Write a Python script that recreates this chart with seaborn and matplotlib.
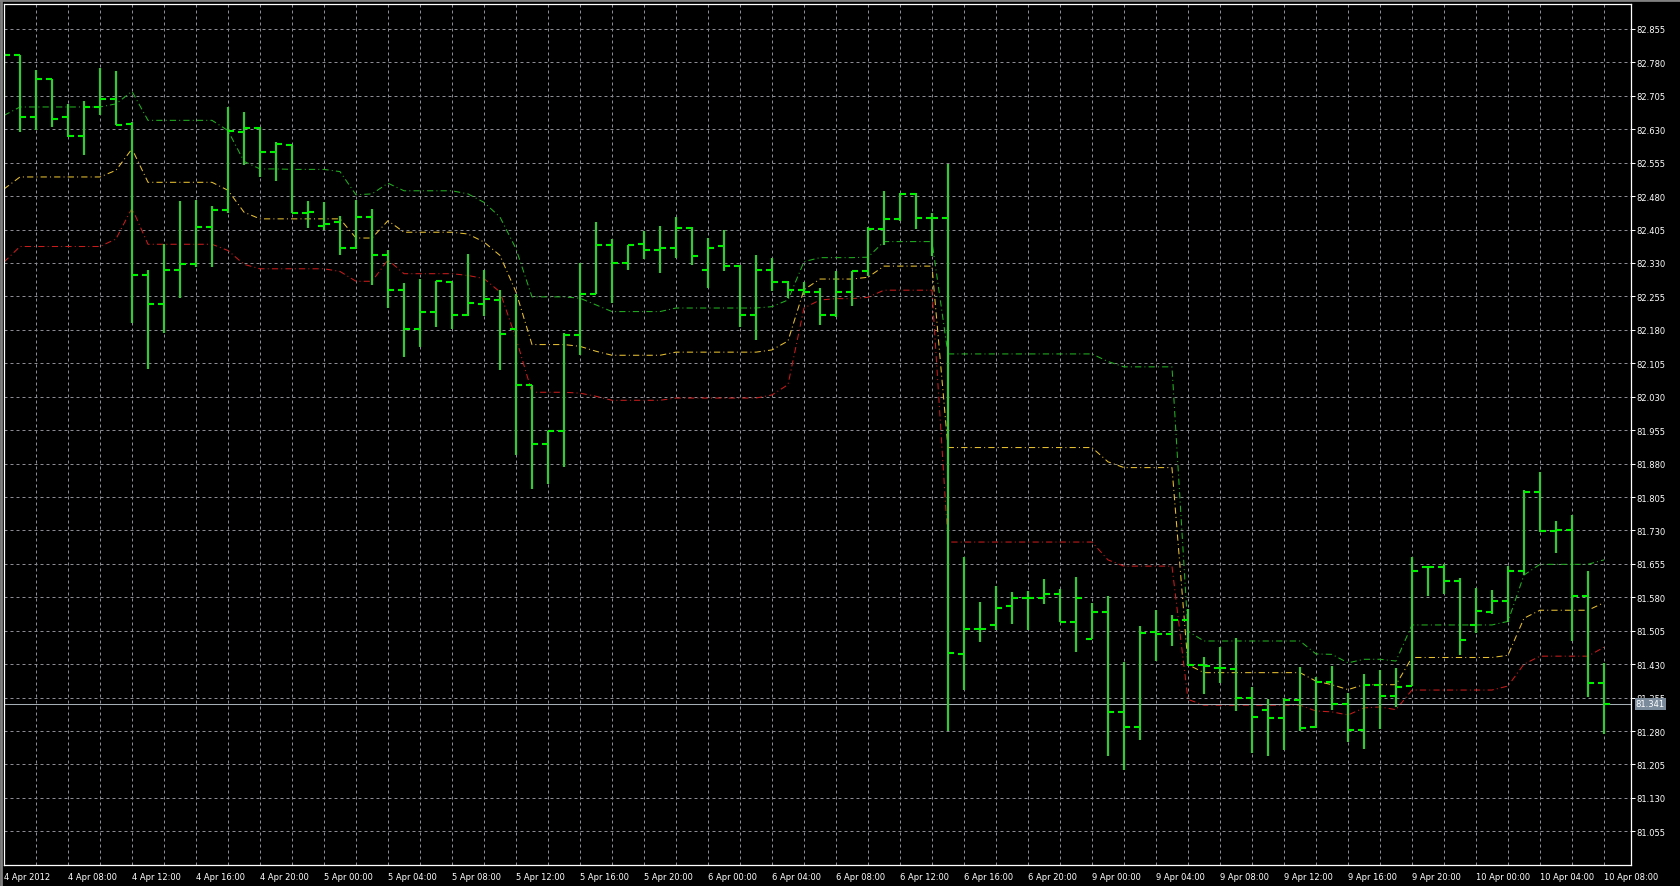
import numpy as np
import pandas as pd
import matplotlib
matplotlib.use("Agg")
import matplotlib.pyplot as plt
from matplotlib.lines import Line2D
import seaborn as sns

# hourly bars, 4 Apr 2012 04:00 ... 10 Apr 2012 08:00
bar_open = [82.720, 82.797, 82.657, 82.742, 82.657, 82.616, 82.680, 82.697, 82.641, 82.303,
            82.239, 82.315, 82.328, 82.411, 82.449, 82.624, 82.632, 82.580, 82.595, 82.442,
            82.412, 82.421, 82.364, 82.434, 82.347, 82.270, 82.183, 82.220, 82.287, 82.213,
            82.238, 82.248, 82.183, 82.056, 81.924, 81.952, 82.168, 82.260, 82.370, 82.330,
            82.373, 82.359, 82.363, 82.408, 82.314, 82.367, 82.323, 82.214, 82.314, 82.288,
            82.269, 82.265, 82.214, 82.265, 82.312, 82.406, 82.428, 82.484, 82.432, 82.432,
            81.452, 81.508, 81.518, 81.560, 81.578, 81.578, 81.587, 81.524, 81.486, 81.547,
            81.323, 81.290, 81.502, 81.497, 81.530, 81.429, 81.422, 81.420, 81.355, 81.328,
            81.310, 81.349, 81.290, 81.390, 81.341, 81.282, 81.384, 81.358, 81.380, 81.647,
            81.647, 81.617, 81.518, 81.547, 81.572, 81.639, 81.817, 81.729, 81.731, 81.583,
            81.387]
bar_high = [82.800, 82.797, 82.762, 82.743, 82.686, 82.693, 82.768, 82.761, 82.646, 82.315,
            82.372, 82.470, 82.471, 82.458, 82.681, 82.668, 82.635, 82.601, 82.595, 82.469,
            82.466, 82.435, 82.471, 82.451, 82.360, 82.286, 82.293, 82.290, 82.287, 82.351,
            82.315, 82.269, 82.261, 82.056, 81.954, 82.173, 82.330, 82.421, 82.383, 82.370,
            82.402, 82.414, 82.434, 82.411, 82.385, 82.403, 82.326, 82.348, 82.342, 82.290,
            82.288, 82.275, 82.312, 82.312, 82.410, 82.492, 82.488, 82.486, 82.442, 82.552,
            81.670, 81.569, 81.605, 81.592, 81.594, 81.620, 81.599, 81.625, 81.567, 81.583,
            81.436, 81.515, 81.551, 81.541, 81.553, 81.446, 81.468, 81.489, 81.379, 81.351,
            81.354, 81.424, 81.401, 81.426, 81.366, 81.407, 81.417, 81.422, 81.670, 81.651,
            81.655, 81.623, 81.600, 81.597, 81.651, 81.820, 81.861, 81.752, 81.764, 81.640,
            81.432]
bar_low = [82.700, 82.623, 82.629, 82.635, 82.612, 82.573, 82.661, 82.640, 82.195, 82.092,
           82.173, 82.251, 82.320, 82.320, 82.442, 82.549, 82.523, 82.514, 82.442, 82.408,
           82.403, 82.347, 82.362, 82.280, 82.228, 82.120, 82.142, 82.186, 82.183, 82.211,
           82.211, 82.090, 81.900, 81.824, 81.835, 81.872, 82.124, 82.260, 82.240, 82.314,
           82.339, 82.308, 82.341, 82.326, 82.273, 82.311, 82.187, 82.158, 82.267, 82.251,
           82.258, 82.190, 82.208, 82.234, 82.300, 82.370, 82.424, 82.406, 82.346, 81.281,
           81.371, 81.479, 81.506, 81.520, 81.506, 81.565, 81.524, 81.457, 81.486, 81.223,
           81.192, 81.261, 81.437, 81.470, 81.426, 81.364, 81.387, 81.326, 81.231, 81.224,
           81.237, 81.281, 81.287, 81.328, 81.255, 81.239, 81.285, 81.334, 81.380, 81.584,
           81.588, 81.450, 81.500, 81.542, 81.524, 81.629, 81.727, 81.680, 81.481, 81.356,
           81.274]
bar_close = [82.797, 82.657, 82.742, 82.652, 82.616, 82.680, 82.697, 82.640, 82.304, 82.237,
             82.315, 82.328, 82.411, 82.449, 82.626, 82.632, 82.580, 82.596, 82.442, 82.445,
             82.417, 82.364, 82.434, 82.347, 82.270, 82.183, 82.220, 82.290, 82.214, 82.240,
             82.249, 82.170, 82.056, 81.924, 81.954, 82.168, 82.260, 82.370, 82.330, 82.370,
             82.359, 82.363, 82.408, 82.345, 82.363, 82.323, 82.214, 82.314, 82.288, 82.269,
             82.265, 82.214, 82.266, 82.312, 82.406, 82.428, 82.484, 82.432, 82.432, 81.455,
             81.508, 81.509, 81.557, 81.578, 81.578, 81.587, 81.524, 81.578, 81.547, 81.323,
             81.290, 81.500, 81.497, 81.530, 81.429, 81.427, 81.422, 81.355, 81.311, 81.310,
             81.349, 81.287, 81.390, 81.341, 81.282, 81.384, 81.358, 81.378, 81.639, 81.647,
             81.617, 81.485, 81.550, 81.572, 81.639, 81.817, 81.729, 81.731, 81.583, 81.387,
             81.341]

# indicator lines (upper / middle / lower)
upper_line = [82.661, 82.680, 82.680, 82.680, 82.680, 82.680, 82.680, 82.687, 82.715, 82.650,
              82.650, 82.650, 82.650, 82.650, 82.627, 82.558, 82.541, 82.541, 82.540, 82.540,
              82.540, 82.535, 82.483, 82.485, 82.509, 82.492, 82.492, 82.492, 82.492, 82.485,
              82.466, 82.433, 82.362, 82.254, 82.254, 82.254, 82.251, 82.236, 82.221, 82.221,
              82.221, 82.221, 82.229, 82.229, 82.229, 82.229, 82.229, 82.229, 82.232, 82.247,
              82.333, 82.342, 82.342, 82.342, 82.343, 82.378, 82.378, 82.378, 82.378, 82.126,
              82.126, 82.126, 82.126, 82.126, 82.126, 82.126, 82.126, 82.126, 82.126, 82.109,
              82.097, 82.097, 82.097, 82.097, 81.504, 81.482, 81.482, 81.482, 81.482, 81.482,
              81.482, 81.482, 81.453, 81.452, 81.433, 81.441, 81.441, 81.437, 81.518, 81.518,
              81.518, 81.518, 81.518, 81.518, 81.526, 81.630, 81.654, 81.654, 81.654, 81.654,
              81.664]
middle_line = [82.496, 82.523, 82.523, 82.523, 82.523, 82.523, 82.523, 82.538, 82.586, 82.511,
               82.511, 82.511, 82.511, 82.511, 82.493, 82.444, 82.429, 82.429, 82.429, 82.429,
               82.429, 82.429, 82.386, 82.386, 82.425, 82.399, 82.399, 82.399, 82.399, 82.395,
               82.377, 82.347, 82.265, 82.147, 82.147, 82.147, 82.143, 82.132, 82.123, 82.123,
               82.123, 82.123, 82.130, 82.130, 82.130, 82.130, 82.130, 82.130, 82.135, 82.155,
               82.270, 82.294, 82.294, 82.294, 82.298, 82.323, 82.323, 82.323, 82.323, 81.916,
               81.916, 81.916, 81.916, 81.916, 81.916, 81.916, 81.916, 81.916, 81.916, 81.884,
               81.871, 81.871, 81.871, 81.871, 81.429, 81.411, 81.411, 81.411, 81.411, 81.411,
               81.411, 81.411, 81.392, 81.384, 81.373, 81.384, 81.384, 81.384, 81.445, 81.445,
               81.445, 81.445, 81.445, 81.445, 81.450, 81.533, 81.551, 81.551, 81.551, 81.551,
               81.568]
lower_line = [82.332, 82.367, 82.367, 82.367, 82.367, 82.367, 82.367, 82.384, 82.453, 82.372,
              82.372, 82.372, 82.372, 82.372, 82.358, 82.327, 82.317, 82.317, 82.317, 82.317,
              82.317, 82.311, 82.289, 82.289, 82.337, 82.306, 82.306, 82.306, 82.306, 82.302,
              82.295, 82.265, 82.161, 82.040, 82.040, 82.040, 82.038, 82.031, 82.022, 82.022,
              82.022, 82.022, 82.027, 82.027, 82.027, 82.027, 82.027, 82.027, 82.034, 82.057,
              82.229, 82.247, 82.250, 82.250, 82.253, 82.269, 82.269, 82.269, 82.269, 81.704,
              81.704, 81.704, 81.704, 81.704, 81.704, 81.704, 81.704, 81.704, 81.704, 81.664,
              81.650, 81.650, 81.650, 81.650, 81.351, 81.338, 81.338, 81.338, 81.338, 81.338,
              81.338, 81.338, 81.325, 81.323, 81.316, 81.332, 81.334, 81.328, 81.372, 81.372,
              81.372, 81.372, 81.372, 81.372, 81.381, 81.430, 81.448, 81.448, 81.448, 81.448,
              81.468]

date_labels = ["4 Apr 2012", "4 Apr 08:00", "4 Apr 12:00", "4 Apr 16:00", "4 Apr 20:00",
               "5 Apr 00:00", "5 Apr 04:00", "5 Apr 08:00", "5 Apr 12:00", "5 Apr 16:00",
               "5 Apr 20:00", "6 Apr 00:00", "6 Apr 04:00", "6 Apr 08:00", "6 Apr 12:00",
               "6 Apr 16:00", "6 Apr 20:00", "9 Apr 00:00", "9 Apr 04:00", "9 Apr 08:00",
               "9 Apr 12:00", "9 Apr 16:00", "9 Apr 20:00", "10 Apr 00:00", "10 Apr 04:00",
               "10 Apr 08:00"]
price_ticks = [82.855, 82.780, 82.705, 82.630, 82.555, 82.480, 82.405, 82.330, 82.255,
               82.180, 82.105, 82.030, 81.955, 81.880, 81.805, 81.730, 81.655, 81.580,
               81.505, 81.430, 81.355, 81.280, 81.205, 81.130, 81.055]
last_price = 81.341

df = pd.DataFrame({"open": bar_open, "high": bar_high, "low": bar_low, "close": bar_close,
                   "upper": upper_line, "middle": middle_line, "lower": lower_line})
df["bar"] = np.arange(len(df))

sns.set_style("dark", {"axes.facecolor": "black", "figure.facecolor": "black"})
plt.rcParams["font.family"] = ["DejaVu Sans"]

fig = plt.figure(figsize=(16.8, 8.87), dpi=100)
ax = fig.add_axes([4 / 1680, 21 / 887, 1627 / 1680, 861 / 887])
ax.set_facecolor("black")

# grid
ax.set_xticks(np.arange(0, 101, 4))
ax.set_xticks(np.arange(0, 101, 2), minor=True)
ax.set_xticklabels(date_labels)
ax.set_yticks(price_ticks)
ax.set_yticklabels([f"{v:.3f}" for v in price_ticks])
ax.grid(True, which="both", color="#8c8c94", lw=0.72, linestyle=(0, (3, 3)), zorder=0)
ax.set_axisbelow(True)

# indicator lines
for col, color in [("upper", "#22b022"), ("middle", "#e8c032"), ("lower", "#c81c1c")]:
    sns.lineplot(data=df, x="bar", y=col, color=color, lw=0.75,
                 linestyle=(0, (6, 3, 1, 3)), ax=ax, zorder=1.5)

# last price line
ax.axhline(last_price, color="#a4acb4", lw=0.75, zorder=1.6)

# OHLC bars
tick = 0.36
ax.vlines(df["bar"], df["low"], df["high"], color="#36c836", lw=1.6, zorder=2)
ax.hlines(df["open"], df["bar"] - tick, df["bar"], color="#00f000", lw=1.5, zorder=2)
ax.hlines(df["close"], df["bar"], df["bar"] + tick, color="#00f000", lw=1.5, zorder=2)

ax.set_xlim(0, 101.69)
ax.set_ylim(80.9795, 82.911)
ax.set_xlabel("")
ax.set_ylabel("")

for s in ax.spines.values():
    s.set_color("white")
    s.set_linewidth(0.9)
    s.set_zorder(3)

ax.yaxis.tick_right()
ax.tick_params(axis="y", which="major", length=3, width=0.7, color="white",
               labelcolor="white", labelsize=6, pad=1)
ax.tick_params(axis="x", which="major", length=4, width=0.7, color="white",
               labelcolor="white", labelsize=6, pad=1)
ax.tick_params(axis="both", which="minor", length=0)
plt.setp(ax.get_xticklabels(), ha="left")

# price box for the last quote
ax.annotate(f"{last_price:.3f}", xy=(1, last_price), xycoords=("axes fraction", "data"),
            xytext=(3.5, 0), textcoords="offset points", va="center", ha="left",
            fontsize=6, color="white", annotation_clip=False, zorder=5,
            bbox=dict(boxstyle="square,pad=0.15", fc="#7b8b9b", ec="none"))

# window frame
fig.add_artist(Line2D([0.0008, 0.0008], [0, 1], transform=fig.transFigure, color="#808080", lw=2))
fig.add_artist(Line2D([0, 1], [0.9985, 0.9985], transform=fig.transFigure, color="#808080", lw=2))

fig.savefig("out.png", dpi=100, facecolor="black")
